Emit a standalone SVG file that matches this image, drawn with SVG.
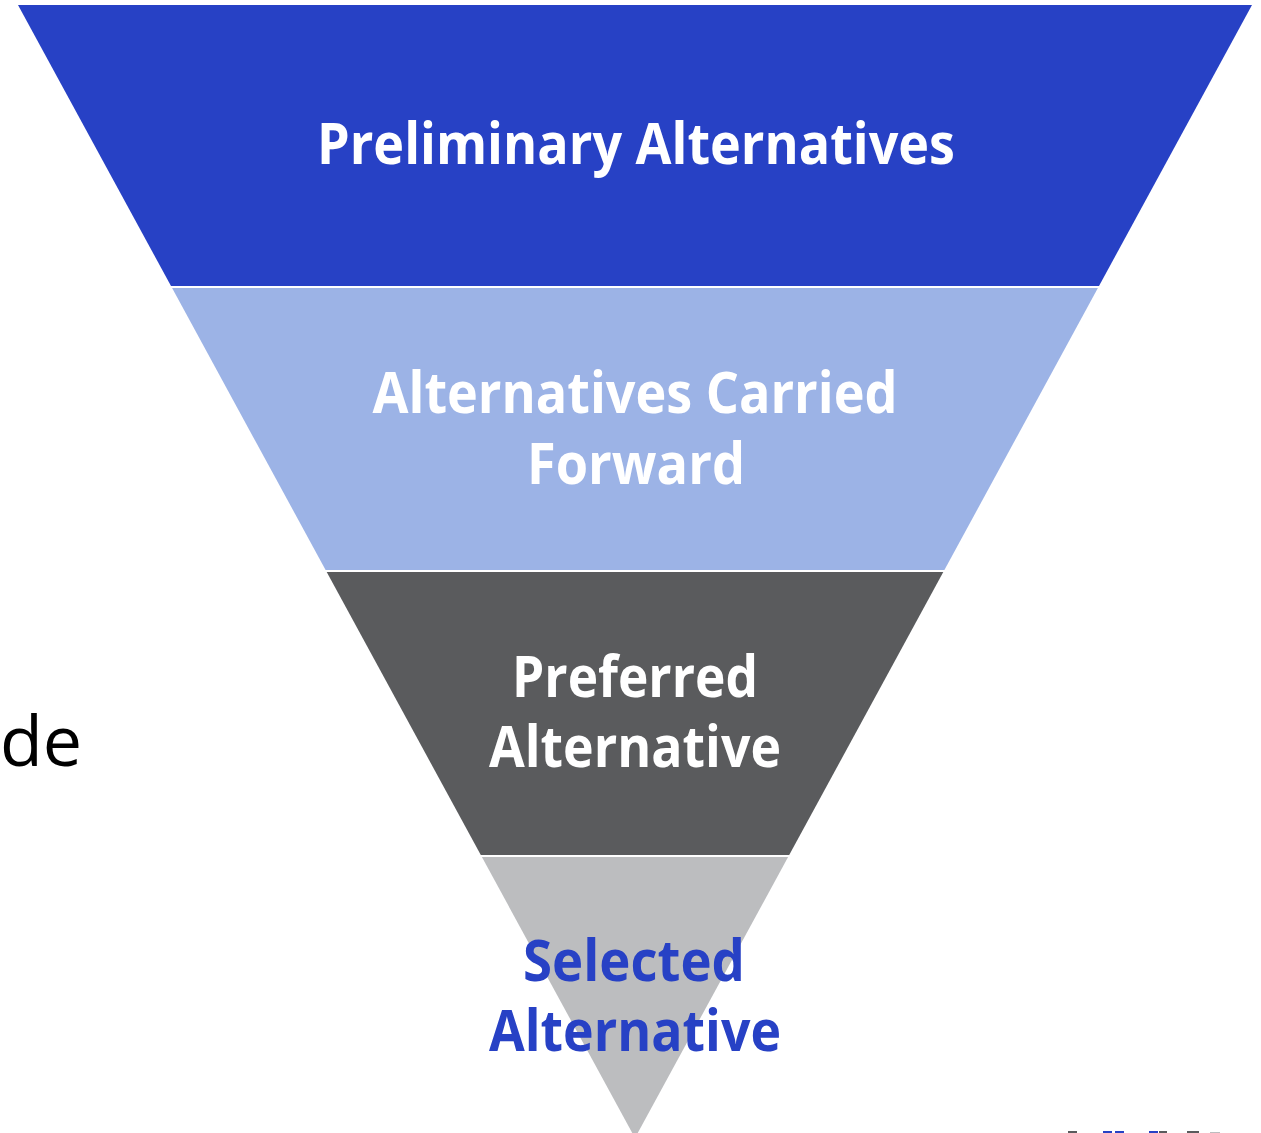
<svg xmlns="http://www.w3.org/2000/svg" width="1261" height="1133" viewBox="0 0 1261 1133">
<style>
.lbl{font-family:"Open Sans","Noto Sans","Liberation Sans",sans-serif;font-weight:700;font-size:57px;text-anchor:middle}
.w{fill:#ffffff}
.b{fill:#2741C5}
</style>
<rect x="0" y="0" width="1261" height="1133" fill="#ffffff"/>
<text x="0" y="766" font-family="Open Sans, Noto Sans, sans-serif" font-size="70" fill="#000000">de</text>
<g id="band1">
<polygon points="18,5 1252,5 1099,286 171,286" fill="#2741C5"/>
<text class="lbl w" x="636" y="164" textLength="638" lengthAdjust="spacingAndGlyphs">Preliminary Alternatives</text>
</g>
<g id="band2">
<polygon points="172.1,288 1097.9,288 944.4,570 325.6,570" fill="#9CB3E6"/>
<text class="lbl w" x="635" y="413" textLength="525" lengthAdjust="spacingAndGlyphs">Alternatives Carried</text>
<text class="lbl w" x="636" y="484" textLength="218" lengthAdjust="spacingAndGlyphs">Forward</text>
</g>
<g id="band3">
<polygon points="326.7,572 943.3,572 789.2,855 480.8,855" fill="#5A5B5D"/>
<text class="lbl w" x="635" y="697" textLength="246" lengthAdjust="spacingAndGlyphs">Preferred</text>
<text class="lbl w" x="635" y="767" textLength="292" lengthAdjust="spacingAndGlyphs">Alternative</text>
</g>
<g id="band4">
<polygon points="481.9,857 788.1,857 635,1138" fill="#BCBDBF"/>
<text class="lbl b" x="634" y="981" textLength="222" lengthAdjust="spacingAndGlyphs">Selected</text>
<text class="lbl b" x="635" y="1051" textLength="292" lengthAdjust="spacingAndGlyphs">Alternative</text>
</g>
<g id="connectors"/>
<g id="logo-fragments">
<rect x="1068" y="1131" width="9" height="2" fill="#5A5B5D"/>
<rect x="1103" y="1131" width="9" height="2" fill="#2741C5"/>
<rect x="1115" y="1131" width="9" height="2" fill="#2741C5"/>
<rect x="1149" y="1131" width="9" height="2" fill="#2741C5"/>
<rect x="1159" y="1131" width="8" height="2" fill="#5A5B5D"/>
<rect x="1187" y="1131" width="12" height="2" fill="#5A5B5D"/>
<rect x="1210" y="1132" width="10" height="1" fill="#BCBDBF"/>
</g>
</svg>
